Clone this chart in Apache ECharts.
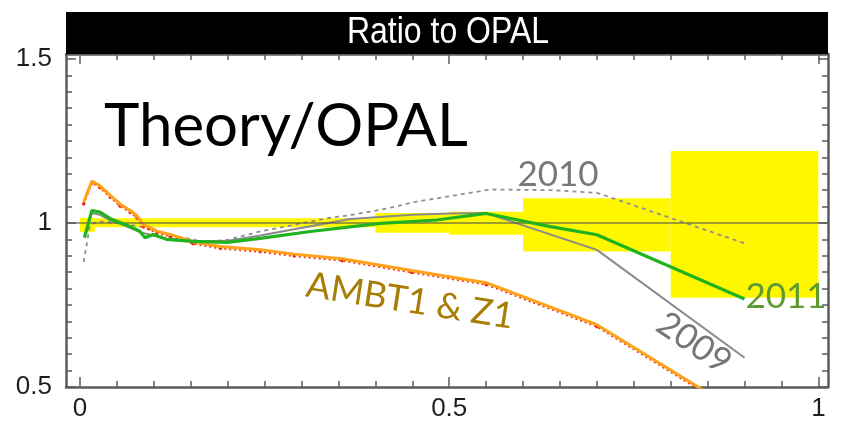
<!DOCTYPE html>
<html>
<head>
<meta charset="utf-8">
<script src="https://cdn.jsdelivr.net/npm/echarts@6/dist/echarts.min.js"></script>
<style>
  html, body { margin: 0; padding: 0; background: #fff; }
  #chart { width: 845px; height: 422px; }
</style>
</head>
<body>
<div id="chart"></div>
<script>
// Axis ranges and tick values
const X_MIN = -0.019, X_MAX = 1.013;
const Y_MIN = 0.5, Y_MAX = 1.515;
const xMajorTicks = [0, 0.5, 1];
const yMajorTicks = [0.5, 1, 1.5];
const xMinorTicks = [0,0.05,0.1,0.15,0.2,0.25,0.3,0.35,0.4,0.45,0.5,0.55,0.6,0.65,0.7,0.75,0.8,0.85,0.9,0.95,1];
const yMinorTicks = [0.5,0.55,0.6,0.65,0.7,0.75,0.8,0.85,0.9,0.95,1,1.05,1.1,1.15,1.2,1.25,1.3,1.35,1.4,1.45,1.5];

// OPAL uncertainty band: bin edges with lower / upper ratio
const bandEdges = [0, 0.02, 0.4, 0.5, 0.6, 0.8, 1.0];
const bandLow   = [0.973, 0.987, 0.970, 0.964, 0.913, 0.772];
const bandHigh  = [1.016, 1.014, 1.030, 1.034, 1.075, 1.219];

// AMBT1 & Z1 tune
const ambtX = [0.005,0.016,0.027,0.041,0.054,0.068,0.077,0.086,0.093,0.104,0.122,0.153,0.190,0.244,0.290,0.355,0.449,0.550,0.700,0.900];
const ambtY = [1.064,1.128,1.113,1.084,1.058,1.038,1.022,0.994,0.988,0.975,0.965,0.943,0.928,0.918,0.905,0.891,0.855,0.818,0.690,0.413];
const ambtPtsY = [1.058,1.122,1.107,1.078,1.052,1.032,1.016,0.988,0.982,0.969,0.959,0.937,0.922,0.912,0.899,0.885,0.849,0.812,0.684,0.407];

// 2011 tune
const t2011X = [0.006,0.016,0.027,0.041,0.063,0.081,0.088,0.099,0.117,0.154,0.199,0.244,0.312,0.407,0.483,0.550,0.637,0.700,0.900];
const t2011Y = [0.955,1.038,1.033,1.013,0.994,0.975,0.955,0.965,0.950,0.944,0.941,0.953,0.974,0.999,1.009,1.029,0.989,0.964,0.768];

// 2009 tune
const t2009X = [0.006,0.016,0.027,0.041,0.063,0.081,0.099,0.117,0.154,0.199,0.244,0.312,0.366,0.450,0.501,0.550,0.700,0.900];
const t2009Y = [0.960,1.030,1.025,1.008,0.990,0.972,0.962,0.952,0.945,0.945,0.962,0.990,1.012,1.025,1.029,1.030,0.918,0.589];

// 2010 tune
const t2010X = [0.005,0.0135,0.025,0.050,0.080,0.110,0.140,0.167,0.199,0.244,0.289,0.334,0.366,0.407,0.456,0.556,0.637,0.700,0.900];
const t2010Y = [0.881,0.994,1.005,1.000,0.990,0.970,0.955,0.943,0.948,0.974,0.994,1.014,1.024,1.040,1.065,1.102,1.100,1.092,0.938];

const pair = (xs, ys) => xs.map((x, i) => [x, ys[i]]);
const bandData = bandLow.map((lo, i) => [bandEdges[i], bandEdges[i + 1], lo, bandHigh[i]]);

const frameColor = '#5c5c5c';
const labelFont = { fontFamily: 'Liberation Sans', fontSize: 26, color: '#1e1e1e' };

function xAxisDef(position, ticks, len, withLabels, withLine) {
  return {
    type: 'value', min: X_MIN, max: X_MAX, position: position,
    axisLine: { show: withLine, onZero: false, lineStyle: { color: frameColor, width: 2.5 } },
    axisTick: { show: true, inside: true, length: len, customValues: ticks,
                lineStyle: { color: frameColor, width: 1.5 } },
    axisLabel: withLabels ? Object.assign({ show: true, customValues: ticks, margin: 9 }, labelFont)
                          : { show: false },
    splitLine: { show: false }
  };
}
function yAxisDef(position, ticks, len, withLabels, withLine) {
  return {
    type: 'value', min: Y_MIN, max: Y_MAX, position: position,
    axisLine: { show: withLine, onZero: false, lineStyle: { color: frameColor, width: 2.5 } },
    axisTick: { show: true, inside: true, length: len, customValues: ticks,
                lineStyle: { color: frameColor, width: 1.5 } },
    axisLabel: withLabels ? Object.assign({ show: true, customValues: ticks, margin: 14 }, labelFont)
                          : { show: false },
    splitLine: { show: false }
  };
}

const chart = echarts.init(document.getElementById('chart'), null, { renderer: 'canvas' });

chart.setOption({
  animation: false,
  backgroundColor: '#ffffff',
  grid: { left: 66, right: 17, top: 54, bottom: 34, containLabel: false },
  xAxis: [
    xAxisDef('bottom', xMajorTicks, 10, true, true),
    xAxisDef('bottom', xMinorTicks, 6, false, false),
    xAxisDef('top', xMajorTicks, 10, false, true),
    xAxisDef('top', xMinorTicks, 6, false, false)
  ],
  yAxis: [
    yAxisDef('left', yMajorTicks, 10, true, true),
    yAxisDef('left', yMinorTicks, 6, false, false),
    yAxisDef('right', yMajorTicks, 10, false, true),
    yAxisDef('right', yMinorTicks, 6, false, false)
  ],
  series: [
    {
      name: 'OPAL band', type: 'custom', z: 1, silent: true,
      data: bandData,
      encode: { x: [0, 1], y: [2, 3] },
      renderItem: function (params, api) {
        const p0 = api.coord([api.value(0), api.value(3)]);
        const p1 = api.coord([api.value(1), api.value(2)]);
        return {
          type: 'rect',
          shape: { x: p0[0], y: p0[1], width: p1[0] - p0[0], height: p1[1] - p0[1] },
          style: { fill: '#fff700' }
        };
      }
    },
    {
      name: 'unity', type: 'line', z: 2, data: [], silent: true,
      markLine: {
        silent: true, symbol: 'none', label: { show: false },
        lineStyle: { color: 'rgba(80,80,80,0.55)', width: 2, type: 'solid' },
        data: [{ yAxis: 1 }]
      }
    },
    {
      name: '2010', type: 'line', z: 3, data: pair(t2010X, t2010Y),
      showSymbol: false, smooth: false,
      lineStyle: { color: '#8f8f8f', width: 1.8, type: [4, 4] }
    },
    {
      name: '2009', type: 'line', z: 3, data: pair(t2009X, t2009Y),
      showSymbol: false,
      lineStyle: { color: '#8a8a8a', width: 2 }
    },
    {
      name: 'AMBT1 & Z1 points', type: 'line', z: 3, data: pair(ambtX, ambtPtsY),
      showSymbol: true, symbol: 'circle', symbolSize: 3.5,
      itemStyle: { color: '#ee2a10' },
      lineStyle: { color: '#f23a1a', width: 2, type: [2, 3] }
    },
    {
      name: 'AMBT1 & Z1', type: 'line', z: 4, data: pair(ambtX, ambtY),
      showSymbol: false,
      lineStyle: { color: '#ffa21a', width: 3 }
    },
    {
      name: '2011', type: 'line', z: 5, data: pair(t2011X, t2011Y),
      showSymbol: false,
      lineStyle: { color: '#1fb41f', width: 3.2 }
    }
  ],
  graphic: [
    { type: 'rect', shape: { x: 66, y: 12, width: 762, height: 42 }, style: { fill: '#000' }, z: 10 },
    { type: 'text', x: 448, y: 33, z: 11, scaleY: 1.15,
      style: { text: 'Ratio to OPAL', fill: '#fff', font: '32px "Liberation Sans"',
               textAlign: 'center', textVerticalAlign: 'middle' } },
    { type: 'text', x: 104, y: 127, z: 11,
      style: { text: 'Theory/OPAL', fill: '#000', font: '60px Lato',
               textAlign: 'left', textVerticalAlign: 'middle' } },
    { type: 'text', x: 558, y: 175, z: 11,
      style: { text: '2010', fill: '#787878', font: '35px Lato',
               textAlign: 'center', textVerticalAlign: 'middle' } },
    { type: 'text', x: 786, y: 297, z: 11,
      style: { text: '2011', fill: '#5d9a2f', font: '35px Lato',
               textAlign: 'center', textVerticalAlign: 'middle' } },
    { type: 'text', x: 694, y: 343, z: 11, rotation: -0.6,
      style: { text: '2009', fill: '#767676', font: '35px Lato',
               textAlign: 'center', textVerticalAlign: 'middle' } },
    { type: 'text', x: 410, y: 301, z: 11, rotation: -0.155,
      style: { text: 'AMBT1 & Z1', fill: '#a87d05', font: '36px Lato',
               textAlign: 'center', textVerticalAlign: 'middle' } }
  ]
});
</script>
</body>
</html>
